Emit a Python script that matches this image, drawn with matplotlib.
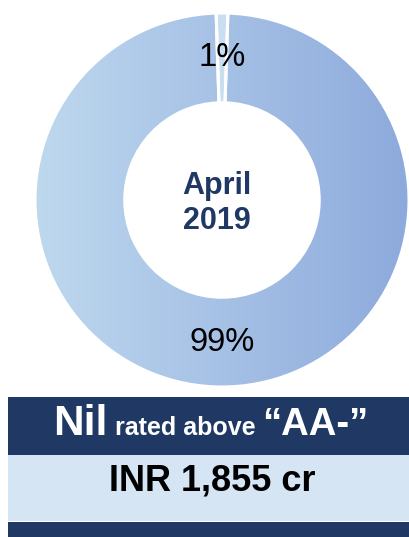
import matplotlib.pyplot as plt
import numpy as np
from matplotlib.colors import LinearSegmentedColormap
from matplotlib.patches import Rectangle
from matplotlib.offsetbox import TextArea, HPacker, AnchoredOffsetbox

plt.rcParams['font.family'] = ['Liberation Sans', 'DejaVu Sans']

# data
labels = ['Above AA-', 'AA- and below']
shares = [1, 99]
period = 'April\n2019'
headline = ['Nil', ' rated above ', '\u201cAA-\u201d']
amount = 'INR 1,855 cr'

navy = '#203864'
light_band = '#d6e5f4'
small_color = '#c8def1'
ring_cmap = LinearSegmentedColormap.from_list('ring', ['#bed8ee', '#8daadc'])

W, H = 410, 537
fig = plt.figure(figsize=(W / 100, H / 100), dpi=100)

# donut
cx, cy, R = 222, 200, 187
ax = fig.add_axes([(cx - R) / W, (H - cy - R) / H, 2 * R / W, 2 * R / H])
wedges, texts, autotexts = ax.pie(
    shares, startangle=90 + shares[0] * 3.6 / 2, counterclock=False,
    radius=1, autopct=lambda p: f'{p:.0f}%', pctdistance=0.76,
    wedgeprops=dict(width=0.48, edgecolor='white', linewidth=2.2),
    textprops=dict(fontsize=23.5, color='black'))
ax.set_xlim(-1, 1)
ax.set_ylim(-1, 1)
ax.axis('off')

wedges[0].set_facecolor(small_color)
wedges[1].set_facecolor('none')
grad = np.linspace(0, 1, 256).reshape(1, -1)
img = ax.imshow(grad, cmap=ring_cmap, extent=[-1, 1, -1, 1], aspect='auto', zorder=0.5)
img.set_clip_path(wedges[1])
for t in autotexts:
    t.set_zorder(5)

ax.text(-0.03, -0.02, period, ha='center', va='center', fontsize=22,
        fontweight='bold', color=navy, linespacing=1.2)

# bands
fig.patches.append(Rectangle((8 / W, (H - 455) / H), 1, 58 / H, transform=fig.transFigure,
                             facecolor=navy, edgecolor='none'))
fig.patches.append(Rectangle((8 / W, (H - 521) / H), 1, 66 / H, transform=fig.transFigure,
                             facecolor=light_band, edgecolor='none'))
fig.patches.append(Rectangle((8 / W, 0), 1, 15 / H, transform=fig.transFigure,
                             facecolor=navy, edgecolor='none'))

sizes = [30.5, 18, 27.5]
parts = [TextArea(s, textprops=dict(fontsize=fs, fontweight='bold', color='white'))
         for s, fs in zip(headline, sizes)]
row = HPacker(children=parts, align='baseline', pad=0, sep=0)
box = AnchoredOffsetbox(loc='center', child=row, pad=0, frameon=False,
                        bbox_to_anchor=(211 / W, (H - 424) / H),
                        bbox_transform=fig.transFigure, borderpad=0)
fig.add_artist(box)

fig.text(212 / W, (H - 481) / H, amount, ha='center', va='center', fontsize=26,
         fontweight='bold', color='black')

fig.savefig('out.png', dpi=100)
